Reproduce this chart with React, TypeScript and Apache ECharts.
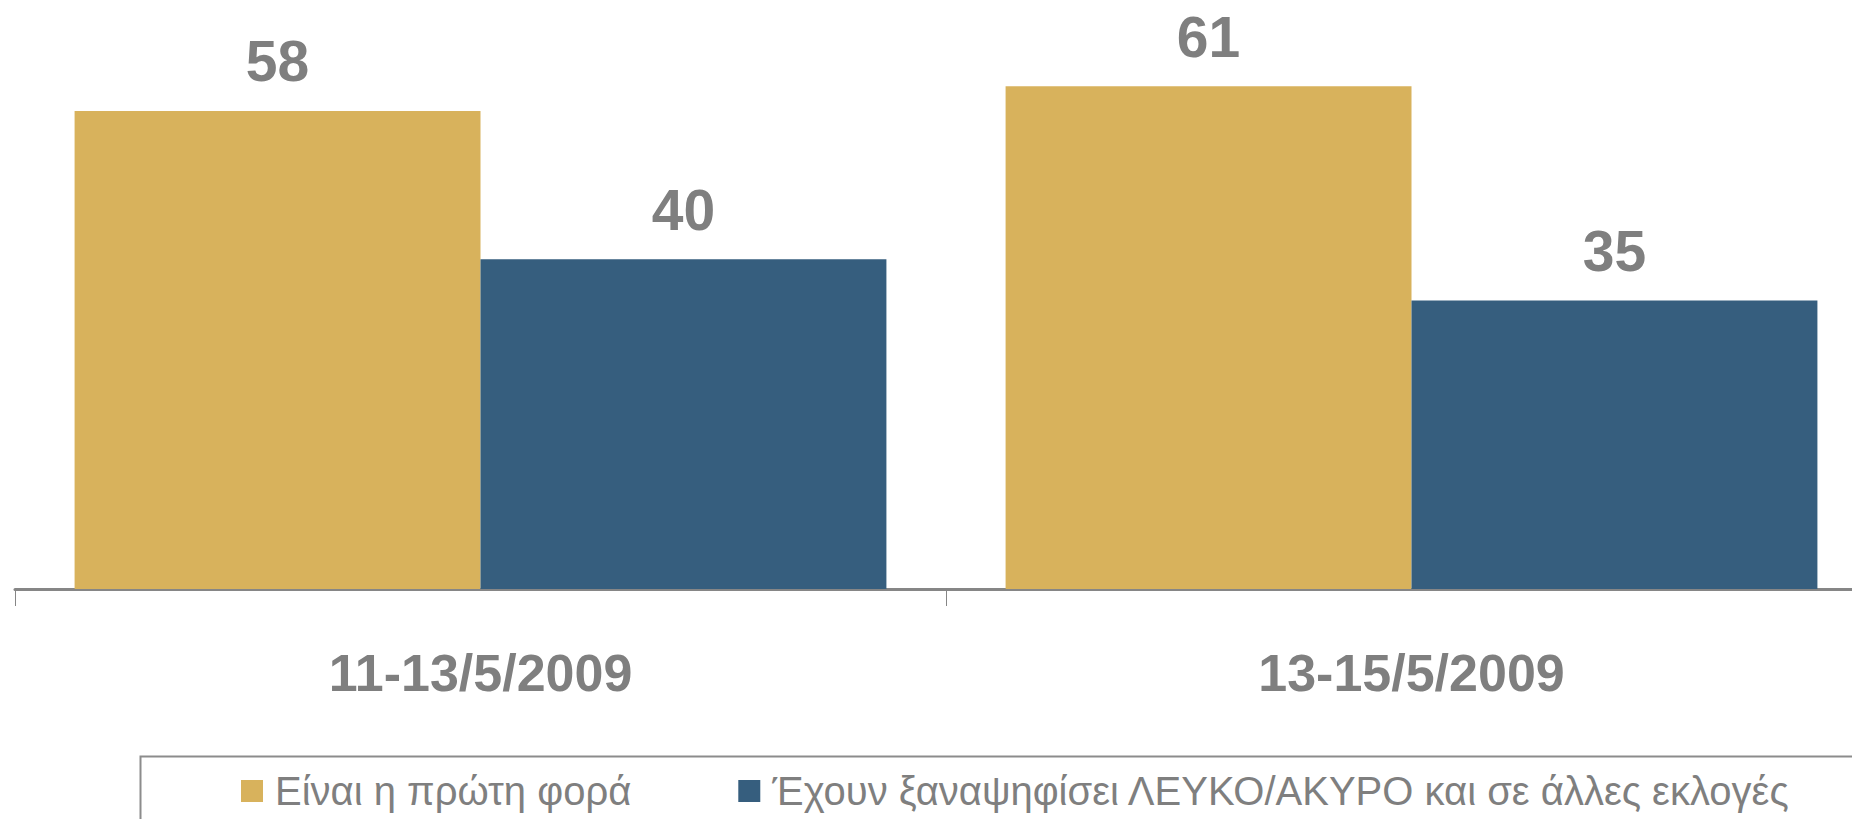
import React, { useEffect, useRef } from "react";
import * as echarts from "echarts";

const categories = ["11-13/5/2009", "13-15/5/2009"];
const seriesNames = [
  "Είναι η πρώτη φορά",
  "Έχουν ξαναψηφίσει ΛΕΥΚΟ/ΑΚΥΡΟ και σε άλλες εκλογές",
];
const firstTime = [58, 61];
const votedBefore = [40, 35];

const GOLD = "#D8B25C";
const BLUE = "#365E7E";
const GREY = "#7F7F7F";
const FONT = "'Liberation Sans', Arial, sans-serif";

export default function App() {
  const ref = useRef<HTMLDivElement>(null);
  useEffect(() => {
    if (!ref.current) return;
    const chart = echarts.init(ref.current, null, { renderer: "svg" });
    const label = {
      show: true,
      position: "top",
      distance: 21,
      color: GREY,
      fontSize: 57,
      fontWeight: "bold",
      fontFamily: FONT,
    };
    chart.setOption({
      animation: false,
      backgroundColor: "#ffffff",
      grid: { left: 15, top: 12, width: 1862, height: 577, containLabel: false },
      xAxis: {
        type: "category",
        data: categories,
        axisLine: { show: true, lineStyle: { color: "#868686", width: 3 } },
        axisTick: { show: true, length: 17, lineStyle: { color: "#868686", width: 1 } },
        axisLabel: {
          margin: 58,
          color: GREY,
          fontSize: 52,
          fontWeight: "bold",
          fontFamily: FONT,
        },
      },
      yAxis: {
        type: "value",
        min: 0,
        max: 70,
        show: false,
        splitLine: { show: false },
      },
      legend: {
        left: 236,
        top: 766,
        itemWidth: 22,
        itemHeight: 22,
        itemGap: 107,
        icon: "rect",
        textStyle: {
          fontSize: 40,
          color: GREY,
          fontFamily: FONT,
          padding: [0, 0, 0, 7],
        },
        data: seriesNames,
      },
      graphic: [
        {
          type: "rect",
          left: 138,
          top: 754,
          shape: { x: 0, y: 0, width: 1800, height: 120 },
          style: { fill: "none", stroke: "#8C8C8C", lineWidth: 2 },
          silent: true,
        },
      ],
      series: [
        {
          name: seriesNames[0],
          type: "bar",
          data: firstTime,
          barGap: "0%",
          barCategoryGap: "12.8%",
          itemStyle: { color: GOLD },
          label,
        },
        {
          name: seriesNames[1],
          type: "bar",
          data: votedBefore,
          itemStyle: { color: BLUE },
          label,
        },
      ],
    });
    return () => chart.dispose();
  }, []);
  return (
    <div
      style={{
        position: "absolute",
        left: 0,
        top: 0,
        width: 1852,
        height: 819,
        overflow: "hidden",
        background: "#ffffff",
      }}
    >
      <div ref={ref} style={{ width: 1900, height: 819 }} />
    </div>
  );
}
